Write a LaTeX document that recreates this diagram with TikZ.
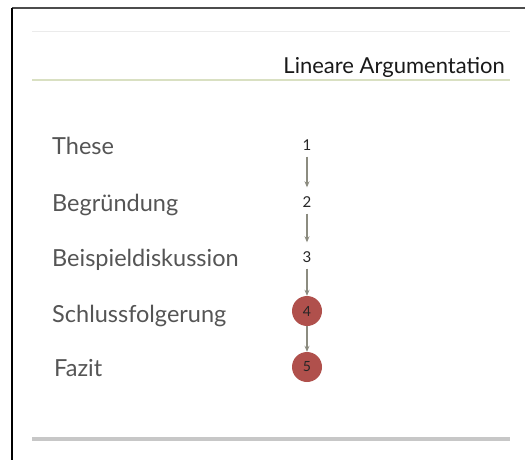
\documentclass[tikz,border=0pt]{standalone}
\usepackage{fontspec}
\setmainfont{Lato}
\usetikzlibrary{arrows.meta}
\definecolor{labgray}{HTML}{555555}
\definecolor{circred}{HTML}{B0504C}
\definecolor{arrgray}{HTML}{8C8C80}
\definecolor{olive}{HTML}{D9E0C2}
\begin{document}
\begin{tikzpicture}[x=1pt,y=-1pt,
  lab/.style={anchor=base west,text=labgray,font=\fontsize{23.5}{26}\selectfont,inner sep=0pt},
  num/.style={font=\fontsize{15}{17}\selectfont,inner sep=0pt,minimum height=13pt,text=black!85},
  numc/.style={circle,fill=circred,minimum size=30pt,inner sep=0pt,font=\fontsize{14}{16}\selectfont,text=black!85},
  conn/.style={draw=arrgray,line width=1.3pt,-{Stealth[length=6pt,width=5pt]}}]
\useasboundingbox (0,0) rectangle (525,460);
\fill[white] (0,0) rectangle (525,460);
% frame
\draw[line width=1.2pt,black!70] (12,8) -- (525,8);
\draw[line width=2.5pt,black] (12,8) -- (12,460);
% lines
\draw[line width=1pt,black!8] (32,32) -- (510,32);
\draw[line width=1.5pt,olive] (32,80) -- (510,80);
\draw[line width=3.5pt,black!22] (32,439) -- (510,439);
% title
\node[anchor=base east,inner sep=0pt,font=\fontsize{22}{25}\selectfont,text=black!90] (title) at (505,74) {Lineare Argumentation};
% labels
\node[lab] (l1) at (52,154) {These};
\node[lab] (l2) at (52,211) {Begründung};
\node[lab] (l3) at (52,266) {Beispieldiskussion};
\node[lab] (l4) at (52,322) {Schlussfolgerung};
\node[lab] (l5) at (54,376) {Fazit};
% numbers
\node[num] (n1) at (307,145) {1};
\node[num] (n2) at (307,202) {2};
\node[num] (n3) at (307,257) {3};
\node[numc] (n4) at (307,311) {4};
\node[numc] (n5) at (307,367) {5};
\draw[conn,shorten <=5pt,shorten >=8pt] (n1) -- (n2);
\draw[conn,shorten <=5pt,shorten >=8pt] (n2) -- (n3);
\draw[conn,shorten <=5pt] (n3) -- (n4);
\draw[conn] (n4) -- (n5);
\end{tikzpicture}
\end{document}
